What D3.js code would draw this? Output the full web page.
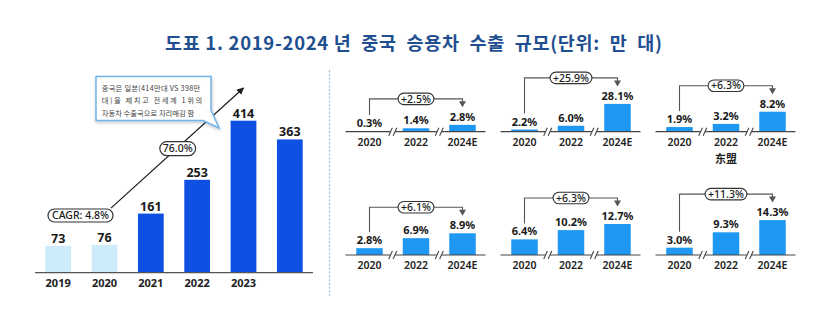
<!DOCTYPE html>
<html><head><meta charset="utf-8">
<script src="https://cdn.jsdelivr.net/npm/d3@7"></script>
<style>
html,body{margin:0;padding:0;background:#fff;}
svg{display:block;}
text{font-family:"Noto Sans","Noto Sans CJK KR",sans-serif;}
</style></head>
<body>
<svg id="chart" width="823" height="325"></svg>
<script>
// ---------- data ----------
const titleText = "도표 1. 2019-2024 년  중국  승용차  수출  규모(단위:  만  대)";
const mainCategories = ["2019","2020","2021","2022","2023","2024"];
const mainValues = [73,76,161,253,414,363];
const mainTickLabels = ["2019","2020","2021","2022","2023",""];
const lightYears = ["2019","2020"];
const cagrLabel = "CAGR: 4.8%";
const growthLabel = "76.0%";
const calloutLines = ["중국은 일본(414만대 VS 398만","대)을 제치고 전세계 1위의","자동차 수출국으로 자리매김 함"];

const panelYears = ["2020","2022","2024E"];
const panelShares = [
  [0.3,1.4,2.8],
  [2.2,6.0,28.1],
  [1.9,3.2,8.2],
  [2.8,6.9,8.9],
  [6.4,10.2,12.7],
  [3.0,9.3,14.3]
];
const panelGrowth = ["+2.5%","+25.9%","+6.3%","+6.1%","+6.3%","+11.3%"];
const panelNames = ["","","东盟","","",""];
const panelScaleMax = [15,37,15,15,15,15];

// ---------- drawing ----------
const svg = d3.select("#chart");
const defs = svg.append("defs");
const f = defs.append("filter").attr("id","sh").attr("x","-20%").attr("y","-20%").attr("width","140%").attr("height","150%");
f.append("feDropShadow").attr("dx",0.5).attr("dy",1.5).attr("stdDeviation",1.5).attr("flood-color","#000").attr("flood-opacity",0.25);
defs.append("marker").attr("id","arr").attr("viewBox","0 0 10 10").attr("refX",9).attr("refY",5)
  .attr("markerWidth",7).attr("markerHeight",7).attr("markerUnits","userSpaceOnUse").attr("orient","auto")
  .append("path").attr("d","M0,0 L10,5 L0,10 Z").attr("fill","#1a1a1a");

// title
svg.append("text").attr("x",165).attr("y",50)
  .attr("textLength",497).attr("lengthAdjust","spacing")
  .style("white-space","pre")
  .style("font-family","'Noto Sans CJK KR',sans-serif").style("font-weight",700).style("font-size","18.5px")
  .attr("fill","#1f4f90").text(titleText);

// ---------- left chart ----------
const baseY = 272.7;
const x = d3.scaleBand().domain(mainCategories).range([35,313]).paddingInner(0.444).paddingOuter(0.222);
const y = d3.scaleLinear().domain([0,450]).range([baseY, baseY - 152*450/414]);
const left = svg.append("g");

left.selectAll("rect.bar").data(mainValues).join("rect").attr("class","bar")
  .attr("x",(d,i)=>x(mainCategories[i])).attr("width",x.bandwidth())
  .attr("y",d=>y(d)).attr("height",d=>baseY-y(d))
  .attr("fill",(d,i)=>lightYears.includes(mainCategories[i])?"#cdebfa":"#0d50e2");

left.selectAll("text.val").data(mainValues).join("text").attr("class","val")
  .attr("x",(d,i)=>x(mainCategories[i])+x.bandwidth()/2).attr("y",d=>y(d)-3)
  .attr("text-anchor","middle").style("font-size","12.5px").style("font-weight",700).attr("fill","#1a1a1a")
  .text(d=>d);

left.append("line").attr("x1",35).attr("x2",313).attr("y1",baseY).attr("y2",baseY)
  .attr("stroke","#555").attr("stroke-width",1.3);

left.selectAll("text.yr").data(mainTickLabels).join("text").attr("class","yr")
  .attr("x",(d,i)=>x(mainCategories[i])+x.bandwidth()/2).attr("y",baseY+14.5)
  .attr("text-anchor","middle").style("font-size","11px").style("font-weight",700).attr("fill","#222")
  .text(d=>d);

// trend arrow
const ax1 = x("2020")+x.bandwidth()*0.75, ay1 = y(176);
const ax2 = x("2023")+x.bandwidth()/2, ay2 = y(503);
left.append("line").attr("x1",ax1).attr("y1",ay1).attr("x2",ax2).attr("y2",ay2)
  .attr("stroke","#1a1a1a").attr("stroke-width",1.2).attr("marker-end","url(#arr)");

function pill(g, cx, cy, txt, fs, h, padX, sw){
  const pg = g.append("g");
  const r = pg.append("rect");
  const t = pg.append("text").attr("x",cx).attr("y",cy).attr("dy","0.35em").attr("text-anchor","middle")
    .style("font-size",fs+"px").style("font-weight",500).attr("fill","#1a1a1a").text(txt);
  const w = t.node().getComputedTextLength()+padX*2;
  r.attr("x",cx-w/2).attr("y",cy-h/2).attr("width",w).attr("height",h).attr("rx",h/2)
    .attr("fill","#fff").attr("stroke","#333").attr("stroke-width",sw);
}
pill(left, 80.5, 215.5, cagrLabel, 10.5, 13, 4, 1.2);
pill(left, (ax1+ax2)/2 + 0.5, (ay1+ay2)/2 + 0.5, growthLabel, 10.5, 14, 3, 1.2);

// callout box
const cb = left.append("g");
cb.append("path").attr("d","M96,76.5 H211 V110 L219,128 L203,120.5 H96 Z")
  .attr("fill","#fff").attr("stroke","#72b4ea").attr("stroke-width",1.5).attr("filter","url(#sh)");
const cLen = [98.5,100.5,92.5];
cb.selectAll("text").data(calloutLines).join("text")
  .attr("x",101.7).attr("y",(d,i)=>90.8+i*12.4)
  .attr("textLength",(d,i)=>cLen[i]).attr("lengthAdjust","spacing")
  .style("font-family","'Noto Sans CJK KR',sans-serif").style("font-size","7.3px").attr("fill","#444")
  .text(d=>d);

// separator
svg.append("line").attr("x1",329.5).attr("x2",329.5).attr("y1",70).attr("y2",296)
  .attr("stroke","#a9bedc").attr("stroke-width",1.2).attr("stroke-dasharray","2.2,1.6");

// ---------- small panels ----------
panelShares.forEach((vals,i)=>{
  const col = i%3, row = Math.floor(i/3);
  const cx0 = 369.5 + col*155;
  const base = row===0 ? 131.7 : 255;
  const g = svg.append("g");
  const px = d3.scalePoint().domain(panelYears).range([cx0, cx0+93]);
  const ph = d3.scaleLinear().domain([0,panelScaleMax[i]]).range([0,36.6]);
  const bw = 26.5;

  g.selectAll("rect").data(vals).join("rect")
    .attr("x",(d,j)=>px(panelYears[j])-bw/2).attr("width",bw)
    .attr("y",d=>base-ph(d)).attr("height",d=>ph(d)).attr("fill","#1e98f2");

  g.append("line").attr("x1",cx0-24).attr("x2",cx0+93+23).attr("y1",base).attr("y2",base)
    .attr("stroke","#444").attr("stroke-width",1.2);

  // break marks
  [0,1].forEach(k=>{
    const mx = (px(panelYears[k])+px(panelYears[k+1]))/2;
    g.append("rect").attr("x",mx-2.5).attr("y",base-2).attr("width",5).attr("height",4).attr("fill","#fff");
    [-2.2,2.2].forEach(o=>{
      g.append("line").attr("x1",mx+o-1.8).attr("y1",base+4).attr("x2",mx+o+1.8).attr("y2",base-4)
        .attr("stroke","#444").attr("stroke-width",1.1);
    });
  });

  g.selectAll("text.yr").data(panelYears).join("text").attr("class","yr")
    .attr("x",d=>px(d)).attr("y",base+14)
    .attr("text-anchor","middle").style("font-size","10.5px").style("font-weight",600).attr("fill","#222")
    .text(d=>d);

  g.selectAll("text.val").data(vals).join("text").attr("class","val")
    .attr("x",(d,j)=>px(panelYears[j])).attr("y",d=>base-ph(d)-4)
    .attr("text-anchor","middle").style("font-size","11px").style("font-weight",700).attr("fill","#1a1a1a")
    .text(d=>d.toFixed(1)+"%");

  // bracket
  const xa = px(panelYears[0]), xb = px(panelYears[2]);
  const yb = base - ph(vals[2]) - 26;
  const ya = base - ph(vals[0]) - 16;
  g.append("path").attr("d",`M${xa},${ya} V${yb} H${xb} V${yb+3}`)
    .attr("fill","none").attr("stroke","#555").attr("stroke-width",1.1);
  g.append("path").attr("d",`M${xb-3.5},${yb+2.5} L${xb+3.5},${yb+2.5} L${xb},${yb+8.5} Z`).attr("fill","#555");
  pill(g, px(panelYears[1]), yb, panelGrowth[i], 10.5, 11.5, 3, 1.1);

  if(panelNames[i]){
    g.append("text").attr("x",px(panelYears[1])).attr("y",base+31)
      .attr("text-anchor","middle").style("font-family","'Noto Sans CJK SC',sans-serif")
      .style("font-size","11px").style("font-weight",700).attr("fill","#222").text(panelNames[i]);
  }
});
</script>
</body></html>
